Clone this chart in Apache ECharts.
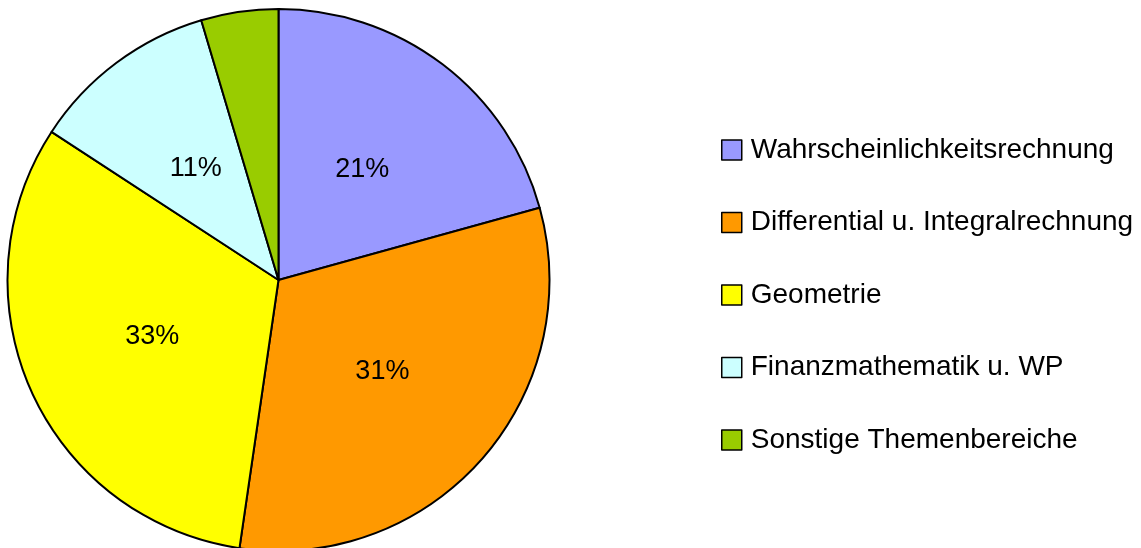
<!DOCTYPE html>
<html>
<head>
<meta charset="utf-8">
<script src="https://cdn.jsdelivr.net/npm/echarts@6/dist/echarts.min.js"></script>
<style>
  html, body { margin: 0; padding: 0; background: #fff; }
  #chart { width: 1141px; height: 548px; }
</style>
</head>
<body>
<div id="chart"></div>
<script>
  // Themenbereiche und Anteile
  var categories = ['Wahrscheinlichkeitsrechnung', 'Differential u. Integralrechnung', 'Geometrie', 'Finanzmathematik u. WP', 'Sonstige Themenbereiche'];
  var values = [20.7, 31.6, 31.9, 11.2, 4.6];
  var pctLabels = ['21%', '31%', '33%', '11%', ''];
  var colors = ['#9999FF', '#FF9900', '#FFFF00', '#CCFFFF', '#99CC00'];

  var myChart = echarts.init(document.getElementById('chart'));

  var data = categories.map(function (name, i) {
    return { name: name, value: values[i], itemStyle: { color: colors[i] } };
  });

  var option = {
    backgroundColor: '#fff',
    animation: false,
    legend: {
      orient: 'vertical',
      left: 721,
      top: 136,
      padding: 0,
      itemWidth: 20,
      itemHeight: 20,
      itemGap: 44.5,
      icon: 'rect',
      itemStyle: { borderColor: '#000', borderWidth: 1.5 },
      textStyle: { fontFamily: 'Liberation Sans, Arial', fontSize: 28, color: '#000', padding: [0, 0, 0, 4] },
      data: categories
    },
    series: [{
      type: 'pie',
      center: [278.5, 280],
      radius: [0, 271],
      startAngle: 90,
      clockwise: true,
      avoidLabelOverlap: false,
      itemStyle: { borderColor: '#000', borderWidth: 2 },
      label: {
        show: true,
        position: 'inner',
        fontFamily: 'Liberation Sans, Arial',
        fontSize: 27,
        color: '#000',
        formatter: function (p) { return pctLabels[p.dataIndex]; }
      },
      labelLine: { show: false },
      emphasis: { disabled: true },
      data: data
    }]
  };

  myChart.setOption(option);
  window.addEventListener('resize', function () {
    myChart.resize();
  });
</script>
</body>
</html>
